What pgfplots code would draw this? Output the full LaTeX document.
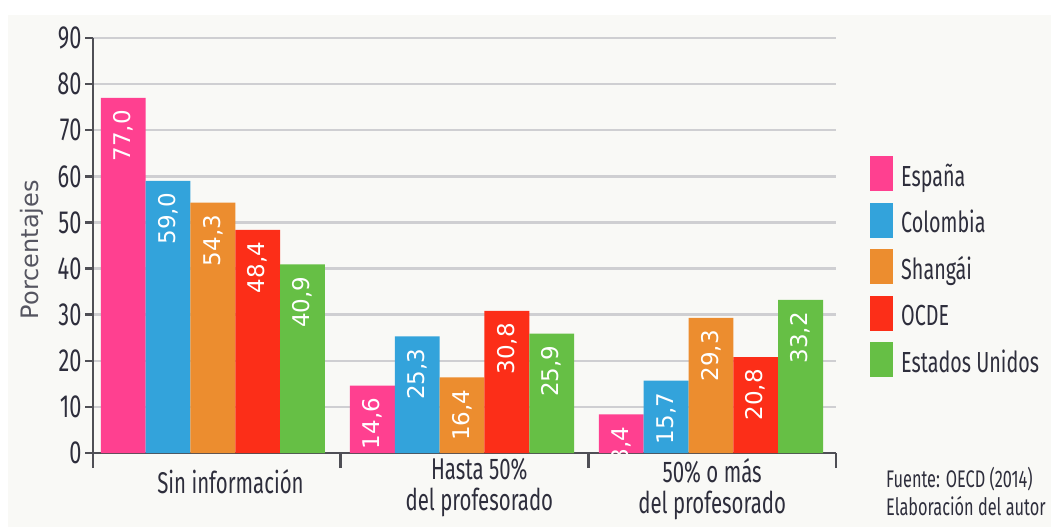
\documentclass[border=0pt]{standalone}
\usepackage{fontspec}
\setmainfont{Fira Sans}[FakeStretch=0.68]
\newfontfamily\dejavu{DejaVu Sans}
\usepackage{pgfplots}
\pgfplotsset{compat=1.18}
\definecolor{espana}{HTML}{FF4090}
\definecolor{colombia}{HTML}{33A3DB}
\definecolor{shangai}{HTML}{EC8D2F}
\definecolor{ocde}{HTML}{FC2E18}
\definecolor{eeuu}{HTML}{66BF45}
\definecolor{axisgray}{HTML}{4F4F55}
\definecolor{gridgray}{HTML}{CFCFD2}
\definecolor{textdark}{HTML}{2E2E3C}
\definecolor{labelgray}{HTML}{555560}
\definecolor{bgpanel}{HTML}{F9F9F6}
\begin{document}
\begin{tikzpicture}[x=1pt,y=1pt]
\fill[white] (0,0) rectangle (1051,527);
\fill[bgpanel] (8,0) rectangle (1051,512);
\useasboundingbox (0,0) rectangle (1051,527);
\begin{axis}[
  at={(93pt,74pt)}, anchor=south west,
  scale only axis, width=743pt, height=415pt,
  xmin=-0.5, xmax=2.5, ymin=0, ymax=90,
  axis x line*=bottom, axis y line*=left,
  axis line style={-, line width=2.5pt, color=axisgray},
  ybar, bar width=0.181,
  clip marker paths=true,
  /pgf/number format/assume math mode=true,
  ytick={0,10,...,90},
  xtick={0.055,1.06,2},
  xticklabels={{\rule{0pt}{35pt}Sin información},{Hasta 50\%\\del profesorado},{50\% o más\\del profesorado}},
  xticklabel style={align=center, font=\fontsize{30}{31}\selectfont, text=textdark, yshift=6pt},
  yticklabel style={font=\fontsize{32}{32}\selectfont, text=textdark},
  minor xtick={-0.5,0.5,1.5,2.5},
  tick align=outside, major tick length=8pt, minor tick length=15pt,
  every tick/.style={line width=2.5pt, color=axisgray},
  major x tick style={draw=none},
  ymajorgrids, grid style={line width=2.5pt, color=gridgray},
  ylabel={Porcentajes},
  ylabel style={font=\dejavu\fontsize{24}{24}\selectfont, text=labelgray, at={(axis description cs:-0.082,0.49)}, anchor=center},
  legend style={at={(1.0458,0.7157)}, anchor=north west, draw=none, fill=none, inner sep=0pt,
    row sep=9.5pt, column sep=8pt, font=\fontsize{29}{29}\selectfont, text=textdark,
    nodes={inner sep=0pt, text height=21pt, text depth=7pt}},
  legend cell align=left,
  legend image code/.code={\fill[#1] (0pt,-12pt) rectangle (23pt,23pt);},
  nodes near coords={\pgfmathprintnumber[fixed,fixed zerofill,precision=1,use comma]{\pgfplotspointmeta}},
  every node near coord/.append style={rotate=90, anchor=east, font=\dejavu\fontsize{23}{23}\selectfont, text=white, inner xsep=12pt},
]
\addplot[fill=espana, draw=none, bar shift=-0.362] coordinates {(-0.016,77.0) (0.99,14.6) (1.995,8.4)};
\addplot[fill=colombia, draw=none, bar shift=-0.181] coordinates {(-0.016,59.0) (0.99,25.3) (1.995,15.7)};
\addplot[fill=shangai, draw=none, bar shift=0] coordinates {(-0.016,54.3) (0.99,16.4) (1.995,29.3)};
\addplot[fill=ocde, draw=none, bar shift=0.181] coordinates {(-0.016,48.4) (0.99,30.8) (1.995,20.8)};
\addplot[fill=eeuu, draw=none, bar shift=0.362] coordinates {(-0.016,40.9) (0.99,25.9) (1.995,33.2)};
\legend{España, Colombia, Shangái, OCDE, Estados Unidos}
\end{axis}
\node[anchor=base west, font=\fontsize{24}{28}\selectfont, text=textdark, align=left, inner sep=0pt] at (886pt,12pt) {Fuente: OECD (2014)\\Elaboración del autor};
\end{tikzpicture}
\end{document}
